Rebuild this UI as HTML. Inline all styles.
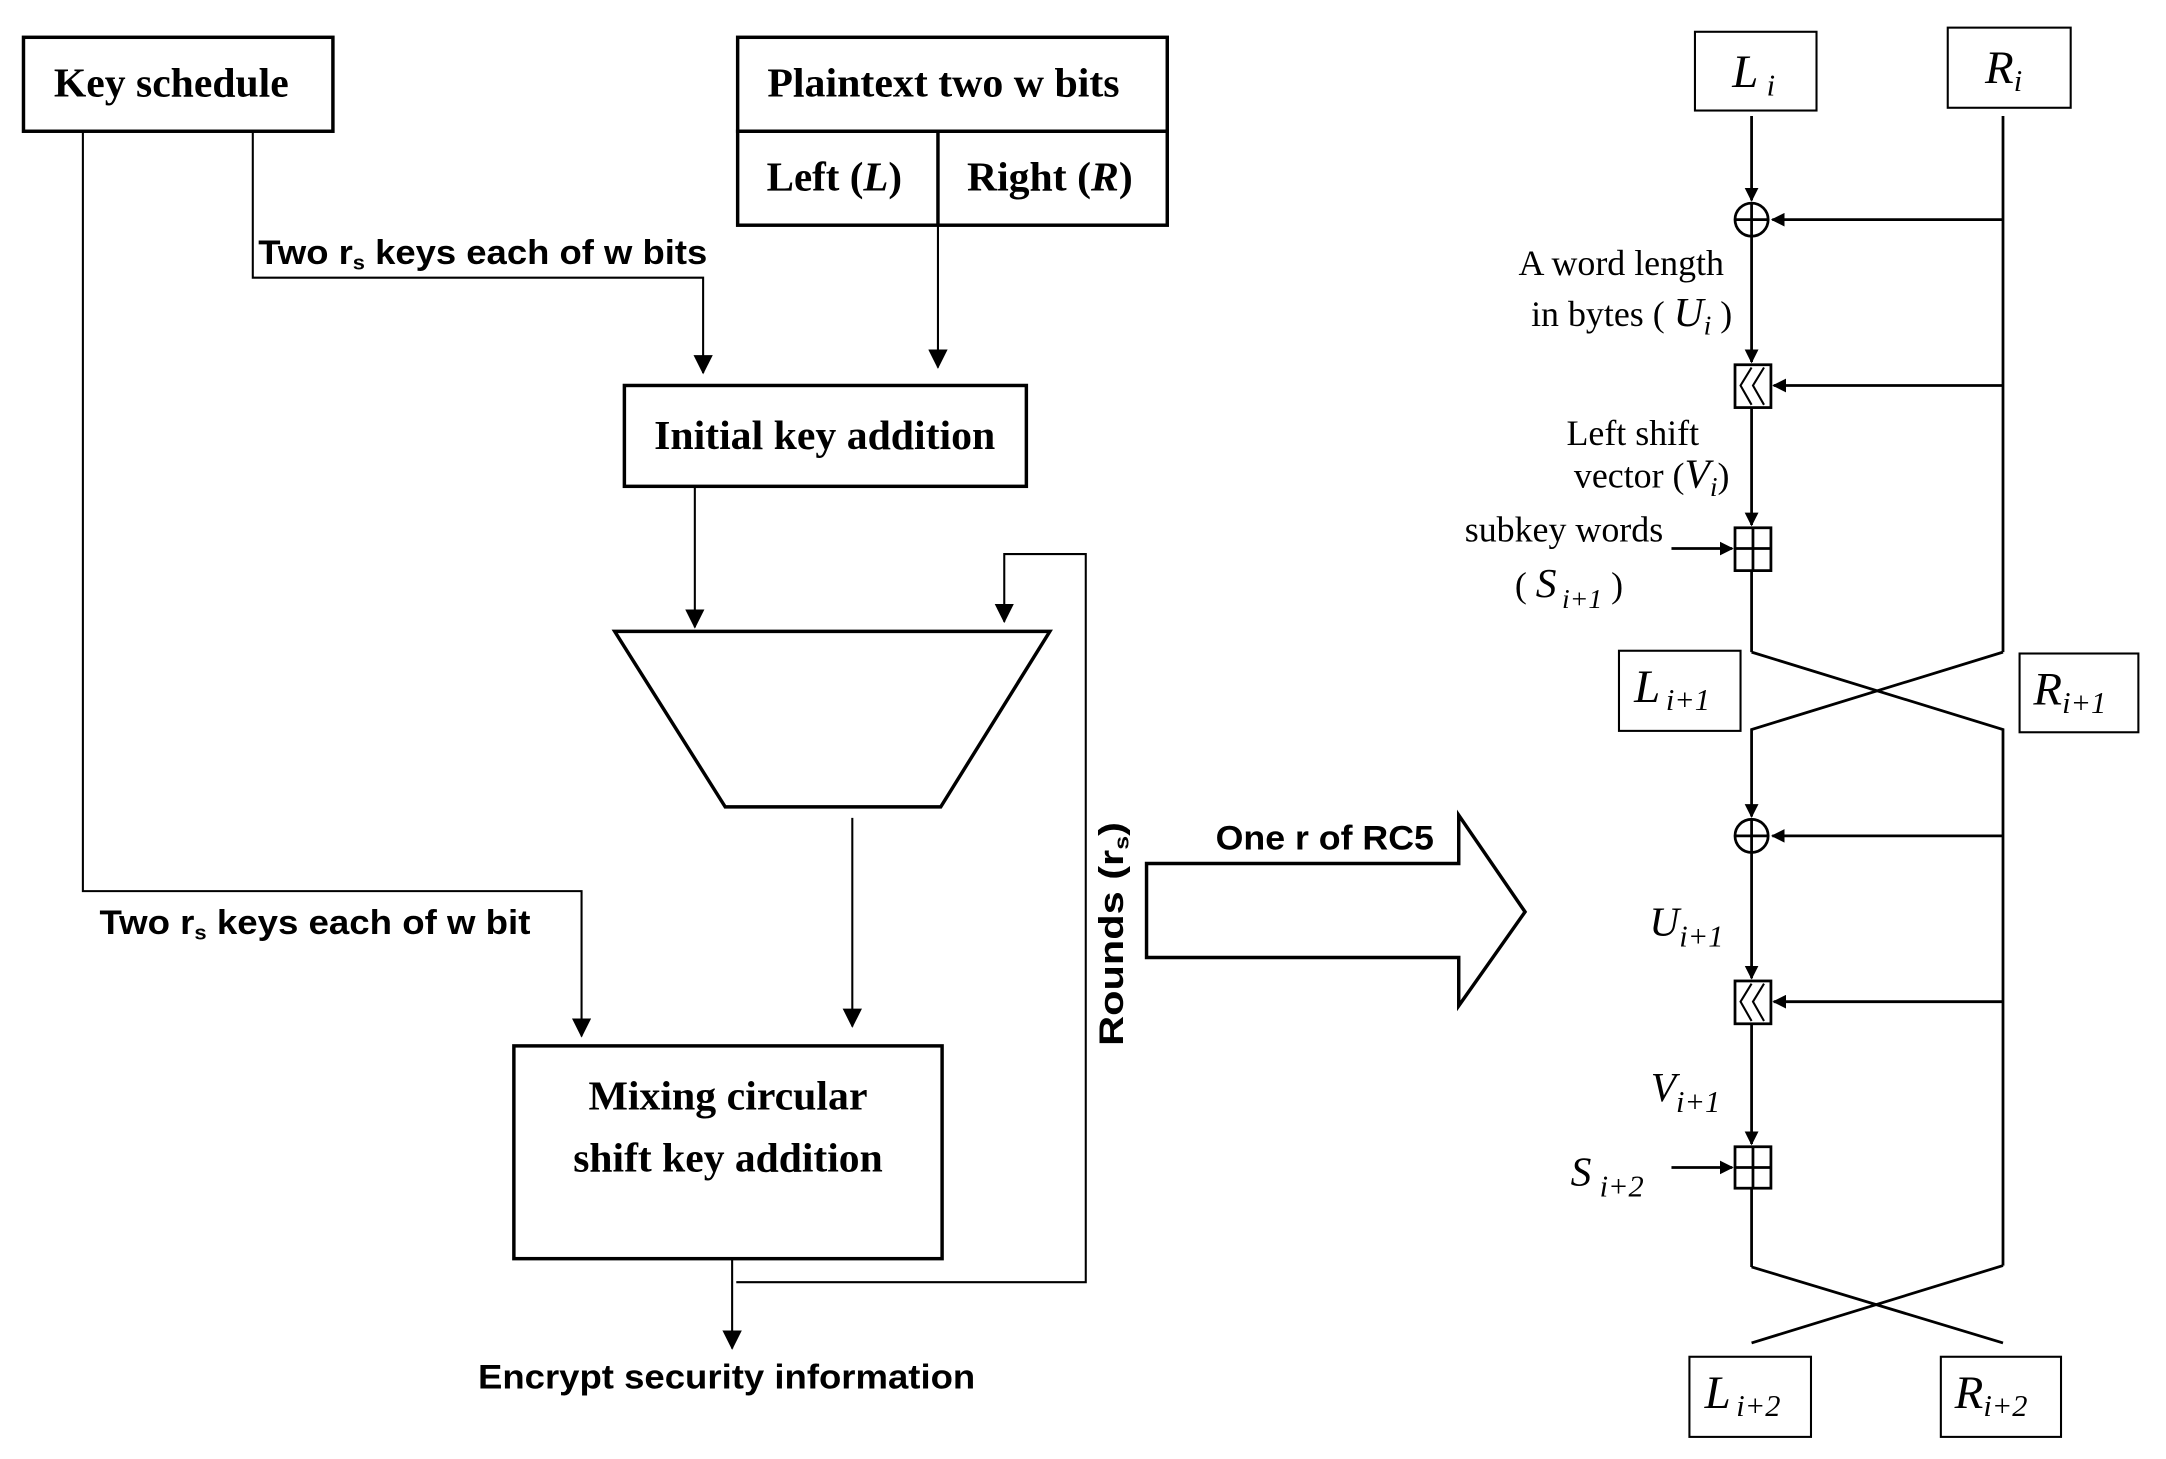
<!DOCTYPE html>
<html><head><meta charset="utf-8"><style>html,body{margin:0;padding:0;background:#fff}svg{display:block}</style></head>
<body>
<svg width="2166" height="1459" viewBox="0 0 1568 1056" preserveAspectRatio="none" xmlns="http://www.w3.org/2000/svg">
<defs>
<marker id="a" markerWidth="10" markerHeight="10" refX="9" refY="5" orient="auto" markerUnits="userSpaceOnUse"><path d="M0,0 L10,5 L0,10 Z" fill="#000"/></marker>
<marker id="b" markerWidth="14" markerHeight="14" refX="13" refY="7" orient="auto" markerUnits="userSpaceOnUse"><path d="M0,0 L14,7 L0,14 Z" fill="#000"/></marker>
</defs>
<rect width="1568" height="1056" fill="#fff"/>
<g fill="none" stroke="#000" stroke-width="2.5">
<rect x="17" y="27" width="224" height="68"/>
<rect x="534" y="27" width="311" height="68"/>
<rect x="534" y="95" width="311" height="68"/>
<line x1="679" y1="95" x2="679" y2="163"/>
<rect x="452" y="279" width="291" height="73"/>
<polygon points="445,457 760,457 681,584 525,584"/>
<rect x="372" y="757" width="310" height="154"/>
<polygon points="830,625 1056,625 1056,590 1104,660 1056,728 1056,693 830,693"/>
</g>
<g fill="none" stroke="#000" stroke-width="1.5">
<polyline points="183,95 183,201 509,201 509,270" marker-end="url(#b)"/>
<line x1="679" y1="163" x2="679" y2="266" marker-end="url(#b)"/>
<line x1="503" y1="352" x2="503" y2="454" marker-end="url(#b)"/>
<polyline points="533,928 786,928 786,401 727,401 727,450" marker-end="url(#b)"/>
<line x1="617" y1="592" x2="617" y2="743" marker-end="url(#b)"/>
<polyline points="60,95 60,645 421,645 421,750" marker-end="url(#b)"/>
<line x1="530" y1="911" x2="530" y2="976" marker-end="url(#b)"/>
</g>
<g font-family="Liberation Serif, serif" font-weight="bold" font-size="30" text-anchor="middle">
<text x="124" y="70" textLength="170" lengthAdjust="spacingAndGlyphs">Key schedule</text>
<text x="683" y="70" textLength="255" lengthAdjust="spacingAndGlyphs">Plaintext two w bits</text>
<text x="604" y="138" textLength="98" lengthAdjust="spacingAndGlyphs">Left (<tspan font-style="italic">L</tspan>)</text>
<text x="760" y="138" textLength="120" lengthAdjust="spacingAndGlyphs">Right (<tspan font-style="italic">R</tspan>)</text>
<text x="597" y="325" textLength="247" lengthAdjust="spacingAndGlyphs">Initial key addition</text>
<text x="527" y="803" textLength="202" lengthAdjust="spacingAndGlyphs">Mixing circular</text>
<text x="527" y="848" textLength="224" lengthAdjust="spacingAndGlyphs">shift key addition</text>
</g>
<g font-family="Liberation Sans, sans-serif" font-weight="bold" font-size="25">
<text x="187" y="191" textLength="325" lengthAdjust="spacingAndGlyphs">Two r<tspan font-size="15" dy="4">s</tspan><tspan dy="-4"> keys each of w bits</tspan></text>
<text x="72" y="676" textLength="312" lengthAdjust="spacingAndGlyphs">Two r<tspan font-size="15" dy="4">s</tspan><tspan dy="-4"> keys each of w bit</tspan></text>
<text x="526" y="1005" text-anchor="middle" textLength="360" lengthAdjust="spacingAndGlyphs">Encrypt security information</text>
<text x="880" y="615" textLength="158" lengthAdjust="spacingAndGlyphs">One r of RC5</text>
<text transform="translate(813,757) rotate(-90)" textLength="162" lengthAdjust="spacingAndGlyphs">Rounds (r<tspan font-size="15" dy="4">s</tspan><tspan dy="-4">)</tspan></text>
</g>
<g fill="none" stroke="#000" stroke-width="1.5">
<rect x="1227" y="23" width="88" height="57"/>
<rect x="1410" y="20" width="89" height="58"/>
<rect x="1172" y="471" width="88" height="58"/>
<rect x="1462" y="473" width="86" height="57"/>
<rect x="1223" y="982" width="88" height="58"/>
<rect x="1405" y="982" width="87" height="58"/>
</g>
<g fill="none" stroke="#000" stroke-width="2">
<line x1="1268" y1="84" x2="1268" y2="145" marker-end="url(#a)"/>
<line x1="1450" y1="84" x2="1450" y2="472"/>
<line x1="1450" y1="159" x2="1283" y2="159" marker-end="url(#a)"/>
<circle cx="1268" cy="159" r="12"/><line x1="1256" y1="159" x2="1280" y2="159"/><line x1="1268" y1="147" x2="1268" y2="171"/>
<line x1="1268" y1="171" x2="1268" y2="262" marker-end="url(#a)"/>
<rect x="1256" y="264" width="26" height="31"/>
<polyline points="1268,266 1260,279 1268,293" stroke-width="1.5"/><polyline points="1277,266 1269,279 1277,293" stroke-width="1.5"/>
<line x1="1450" y1="279" x2="1284" y2="279" marker-end="url(#a)"/>
<line x1="1268" y1="295" x2="1268" y2="380" marker-end="url(#a)"/>
<rect x="1256" y="382" width="26" height="31"/><line x1="1256" y1="397" x2="1282" y2="397"/><line x1="1269" y1="382" x2="1269" y2="413"/>
<line x1="1210" y1="397" x2="1254" y2="397" marker-end="url(#a)"/>
<line x1="1268" y1="413" x2="1268" y2="472"/>
<polyline points="1268,472 1450,528 1450,916"/>
<polyline points="1450,472 1268,528 1268,591" marker-end="url(#a)"/>
<line x1="1450" y1="605" x2="1283" y2="605" marker-end="url(#a)"/>
<circle cx="1268" cy="605" r="12"/><line x1="1256" y1="605" x2="1280" y2="605"/><line x1="1268" y1="593" x2="1268" y2="617"/>
<line x1="1268" y1="617" x2="1268" y2="708" marker-end="url(#a)"/>
<rect x="1256" y="710" width="26" height="31"/>
<polyline points="1268,712 1260,725 1268,739" stroke-width="1.5"/><polyline points="1277,712 1269,725 1277,739" stroke-width="1.5"/>
<line x1="1450" y1="725" x2="1284" y2="725" marker-end="url(#a)"/>
<line x1="1268" y1="741" x2="1268" y2="828" marker-end="url(#a)"/>
<rect x="1256" y="830" width="26" height="30"/><line x1="1256" y1="845" x2="1282" y2="845"/><line x1="1269" y1="830" x2="1269" y2="860"/>
<line x1="1210" y1="845" x2="1254" y2="845" marker-end="url(#a)"/>
<line x1="1268" y1="860" x2="1268" y2="917"/>
<polyline points="1268,917 1450,972"/>
<polyline points="1450,916 1268,972"/>
</g>
<g font-family="Liberation Serif, serif" font-size="34" font-style="italic">
<text x="1254" y="63">L<tspan font-size="22" dx="6" dy="6">i</tspan></text>
<text x="1437" y="60">R<tspan font-size="22" dy="6">i</tspan></text>
<text x="1183" y="508">L<tspan font-size="22" dx="4" dy="6">i+1</tspan></text>
<text x="1472" y="510">R<tspan font-size="22" dy="6">i+1</tspan></text>
<text x="1234" y="1019">L<tspan font-size="22" dx="4" dy="6">i+2</tspan></text>
<text x="1415" y="1019">R<tspan font-size="22" dy="6">i+2</tspan></text>
<text x="1194" y="677" font-size="30">U<tspan font-size="22" dy="8">i+1</tspan></text>
<text x="1195" y="797" font-size="30">V<tspan font-size="22" dy="8">i+1</tspan></text>
<text x="1137" y="858" font-size="30">S<tspan font-size="22" dx="6" dy="8">i+2</tspan></text>
</g>
<g font-family="Liberation Serif, serif" font-size="26" text-anchor="end">
<text x="1248" y="199">A word length</text>
<text x="1254" y="236">in bytes ( <tspan font-style="italic" font-size="30">U</tspan><tspan font-style="italic" font-size="20" dy="6">i</tspan><tspan dy="-6"> )</tspan></text>
<text x="1230" y="322">Left shift</text>
<text x="1252" y="353">vector (<tspan font-style="italic" font-size="30">V</tspan><tspan font-style="italic" font-size="20" dy="6">i</tspan><tspan dy="-6">)</tspan></text>
<text x="1204" y="392">subkey words</text>
<text x="1175" y="432">( <tspan font-style="italic" font-size="30">S</tspan><tspan font-style="italic" font-size="20" dx="4" dy="8">i+1</tspan><tspan dy="-8"> )</tspan></text>
</g>
</svg>
</body></html>
